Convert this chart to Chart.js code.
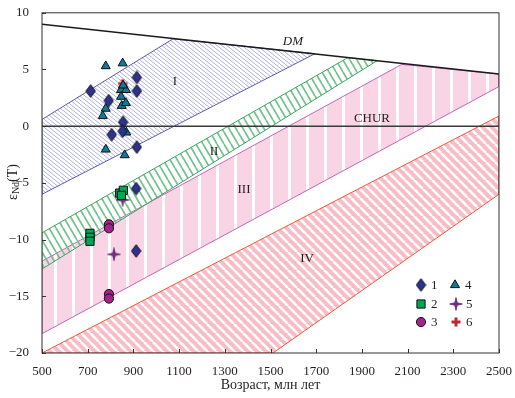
<!DOCTYPE html>
<html>
<head>
<meta charset="utf-8">
<script src="https://cdn.jsdelivr.net/npm/chart.js@4.4.0/dist/chart.umd.min.js"></script>
<style>html,body{margin:0;padding:0;background:#fff}</style>
</head>
<body>
<canvas id="myChart" width="515" height="398"></canvas>
<script>
// axis ticks
var xTicks = [500, 700, 900, 1100, 1300, 1500, 1700, 1900, 2100, 2300, 2500];
var yTicks = [-20, -15, -10, -5, 0, 5, 10];

// reference lines (age, eps)
var dmLine = [[500, 9.0], [2500, 4.6]];
var churLine = [[500, 0], [2500, 0]];

// fields I-IV, outline points (age, eps)
var field1 = [[500, 0.6], [1073, 7.7], [1695, 6.4], [500, -6.0], [500, 0.6]];
var field2 = [[500, -9.4], [1839, 6.05], [1966, 5.77], [500, -12.6], [500, -9.4]];
var field3 = [[500, -11.9], [2074, 5.45], [2500, 4.6], [2500, 3.5], [500, -18.3], [500, -11.9]];
var field4 = [[500, -20], [2500, 0.9], [2500, -6.0], [1511, -20], [500, -20]];

// samples, groups 1-6 (age, eps)
var group1 = [[713, 3.1], [915, 4.3], [915, 3.1], [792, 2.25], [855, 0.35], [805, -0.75], [853, -0.45], [915, -1.85], [912, -5.5], [912, -11.0]];
var group2 = [[840, -5.9], [856, -5.65], [848, -6.1], [710, -9.45], [710, -9.8], [710, -10.15]];
var group3 = [[793, -8.65], [793, -9.0], [793, -14.8], [793, -15.2]];
var group4 = [[779, 5.3], [853, 5.55], [779, 1.55], [766, 0.9], [846, 3.2], [868, 3.2], [846, 2.6], [849, 1.8], [867, 2.05], [855, 3.6], [869, -0.55], [779, -2.05], [862, -2.55]];
var group5 = [[853, -6.5], [815, -11.3]];
var group6 = [[853, 3.75], [853, 3.4]];

var fieldLabels = [["I", 1082, 3.9], ["II", 1253, -2.2], ["III", 1384, -5.6], ["IV", 1660, -11.7]];

var serif = '"Liberation Serif", "DejaVu Serif", serif';
var inkColor = "#231f20";

function toXY(arr) {
    return arr.map(function (p) { return { x: p[0], y: p[1] }; });
}

// hatch tile, lines running down-right "\"
function makeHatch(w, h, bg, color, lw) {
    var c = document.createElement("canvas");
    c.width = w; c.height = h;
    var g = c.getContext("2d");
    if (bg) { g.fillStyle = bg; g.fillRect(0, 0, w, h); }
    g.strokeStyle = color; g.lineWidth = lw;
    for (var k = -1; k <= 1; k++) {
        g.beginPath();
        g.moveTo(k * w, 0);
        g.lineTo(k * w + w, h);
        g.stroke();
    }
    return g.createPattern(c, "repeat");
}

function makeVStripes(w, bg, stripe) {
    var c = document.createElement("canvas");
    c.width = w; c.height = 4;
    var g = c.getContext("2d");
    g.fillStyle = bg; g.fillRect(0, 0, w, 4);
    g.fillStyle = stripe; g.fillRect(0, 0, 3, 4);
    return g.createPattern(c, "repeat");
}

// custom markers
function makeDiamond() {
    var c = document.createElement("canvas");
    c.width = 11; c.height = 14;
    var g = c.getContext("2d");
    g.beginPath();
    g.moveTo(5.5, 0.7); g.lineTo(10.2, 7); g.lineTo(5.5, 13.3); g.lineTo(0.8, 7); g.closePath();
    g.fillStyle = "#2e3192"; g.fill();
    g.strokeStyle = "#111"; g.lineWidth = 1; g.stroke();
    return c;
}
function makeStar() {
    var c = document.createElement("canvas");
    c.width = 14; c.height = 14;
    var g = c.getContext("2d");
    g.beginPath();
    g.moveTo(7, 0.5); g.lineTo(8.3, 5.7); g.lineTo(13.5, 7); g.lineTo(8.3, 8.3);
    g.lineTo(7, 13.5); g.lineTo(5.7, 8.3); g.lineTo(0.5, 7); g.lineTo(5.7, 5.7); g.closePath();
    g.fillStyle = "#7b2d8e"; g.fill();
    g.strokeStyle = "#4a1a55"; g.lineWidth = 0.6; g.stroke();
    return c;
}
function makePlus() {
    var c = document.createElement("canvas");
    c.width = 10; c.height = 10;
    var g = c.getContext("2d");
    g.fillStyle = "#c4262e";
    g.fillRect(3.5, 0.5, 3, 9);
    g.fillRect(0.5, 3.5, 9, 3);
    return c;
}

var ctx = document.getElementById("myChart").getContext("2d");

var fill1 = makeHatch(5, 4, null, "#aeaedf", 1);
var fill2 = makeHatch(7, 12, null, "#72c28e", 1.7);
var fill3 = makeVStripes(18, "#f8d4e4", "#ffffff");
var fill4 = makeHatch(9, 9, "#f8bcc6", "#ffffff", 2.6);

var markers = {
    g1: { pointStyle: makeDiamond(), radius: 6, bg: "#2e3192" },
    g2: { pointStyle: "rect", radius: 5.8, bg: "#00a651" },
    g3: { pointStyle: "circle", radius: 4.6, bg: "#a3238e" },
    g4: { pointStyle: "triangle", radius: 5.2, bg: "#0c7b9b" },
    g5: { pointStyle: makeStar(), radius: 7, bg: "#7b2d8e" },
    g6: { pointStyle: makePlus(), radius: 5, bg: "#c4262e" }
};

function fieldSet(pts, pattern, edge, ord) {
    return {
        data: toXY(pts), backgroundColor: pattern, borderColor: edge, borderWidth: 1,
        fill: "shape", pointRadius: 0, pointHoverRadius: 0, order: ord
    };
}
function refSet(pts, color) {
    return {
        data: toXY(pts), borderColor: color, borderWidth: 1.5, fill: false,
        pointRadius: 0, pointHoverRadius: 0, order: 5
    };
}
function groupSet(pts, m) {
    return {
        data: toXY(pts), showLine: false, fill: false, pointStyle: m.pointStyle,
        pointRadius: m.radius, pointHoverRadius: m.radius, pointBackgroundColor: m.bg,
        pointBorderColor: "#111", pointBorderWidth: 1, order: 0
    };
}

// box and inward ticks, axis titles, field labels
var framePlugin = {
    id: "frame",
    afterDraw: function (chart) {
        var c = chart.ctx, a = chart.chartArea;
        var sx = chart.scales.x, sy = chart.scales.y;
        c.save();
        c.strokeStyle = "#333"; c.lineWidth = 1;
        c.strokeRect(a.left, a.top, a.right - a.left, a.bottom - a.top);
        c.beginPath();
        xTicks.forEach(function (v) {
            var px = Math.round(sx.getPixelForValue(v)) + 0.5;
            c.moveTo(px, a.bottom); c.lineTo(px, a.bottom - 4);
        });
        yTicks.forEach(function (v) {
            var py = Math.round(sy.getPixelForValue(v)) + 0.5;
            c.moveTo(a.left, py); c.lineTo(a.left + 4, py);
        });
        c.stroke();

        c.fillStyle = inkColor;
        c.textAlign = "center"; c.textBaseline = "middle";
        c.font = "13px " + serif;
        fieldLabels.forEach(function (l) {
            c.fillText(l[0], sx.getPixelForValue(l[1]), sy.getPixelForValue(l[2]));
        });
        c.font = "italic 13px " + serif;
        c.fillText("DM", sx.getPixelForValue(1598), sy.getPixelForValue(7.45));
        c.font = "13px " + serif;
        c.fillText("CHUR", sx.getPixelForValue(1944), sy.getPixelForValue(0.7));

        c.font = "14px " + serif;
        c.fillText("Возраст, млн лет", (a.left + a.right) / 2, 385);

        // y title with subscript
        c.save();
        c.translate(13, 182);
        c.rotate(-Math.PI / 2);
        c.textAlign = "left";
        var f1 = "14px " + serif, f2 = "10px " + serif;
        c.font = f1; var w1 = c.measureText("ε").width, w3 = c.measureText("(T)").width;
        c.font = f2; var w2 = c.measureText("Nd").width;
        var x0 = -(w1 + w2 + w3) / 2;
        c.font = f1; c.fillText("ε", x0, 0);
        c.font = f2; c.fillText("Nd", x0 + w1, 3.5);
        c.font = f1; c.fillText("(T)", x0 + w1 + w2, 0);
        c.restore();
        c.restore();
    }
};

var legendItems = [["1", "g1", 421, 285], ["4", "g4", 455, 285], ["2", "g2", 421, 304], ["5", "g5", 456, 304], ["3", "g3", 421, 322], ["6", "g6", 456, 322]];

var legendPlugin = {
    id: "groupLegend",
    afterDraw: function (chart) {
        var c = chart.ctx;
        c.save();
        legendItems.forEach(function (it) {
            var m = markers[it[1]];
            c.fillStyle = m.bg; c.strokeStyle = "#111"; c.lineWidth = 1;
            Chart.helpers.drawPoint(c, { pointStyle: m.pointStyle, radius: m.radius, rotation: 0, borderWidth: 1 }, it[2], it[3]);
            c.fillStyle = inkColor;
            c.font = "13px " + serif;
            c.textAlign = "left"; c.textBaseline = "middle";
            c.fillText(it[0], it[2] + 10, it[3] + 0.5);
        });
        c.restore();
    }
};

window.myChart = new Chart(ctx, {
    type: "line",
    data: {
        datasets: [
            groupSet(group1, markers.g1),
            groupSet(group2, markers.g2),
            groupSet(group3, markers.g3),
            groupSet(group4, markers.g4),
            groupSet(group5, markers.g5),
            groupSet(group6, markers.g6),
            refSet(dmLine, "#1a1a1a"),
            refSet(churLine, "#3a3a3a"),
            fieldSet(field1, fill1, "#5b5bb0", 10),
            fieldSet(field4, fill4, "#ea5a3c", 11),
            fieldSet(field2, fill2, "#3fa462", 12),
            fieldSet(field3, fill3, "#c266b8", 13)
        ]
    },
    options: {
        responsive: false,
        animation: false,
        devicePixelRatio: 1,
        events: [],
        layout: { padding: { top: 11, right: 16, left: 0, bottom: 0 } },
        plugins: { legend: { display: false }, tooltip: { enabled: false } },
        scales: {
            x: {
                type: "linear", min: 500, max: 2500,
                afterBuildTicks: function (s) { s.ticks = xTicks.map(function (v) { return { value: v }; }); },
                afterFit: function (s) { s.height = 45; },
                grid: { display: false }, border: { display: false },
                ticks: {
                    font: { family: serif, size: 13 }, color: inkColor, padding: 3, maxRotation: 0, autoSkip: false,
                    callback: function (v) { return String(v); }
                }
            },
            y: {
                type: "linear", min: -20, max: 10,
                afterBuildTicks: function (s) { s.ticks = yTicks.map(function (v) { return { value: v }; }); },
                afterFit: function (s) { s.width = 42; },
                grid: { display: false }, border: { display: false },
                ticks: {
                    font: { family: serif, size: 13 }, color: inkColor, padding: 5,
                    callback: function (v) { return String(v).replace("-", "\u2212"); }
                }
            }
        }
    },
    plugins: [framePlugin, legendPlugin]
});
</script>
</body>
</html>
